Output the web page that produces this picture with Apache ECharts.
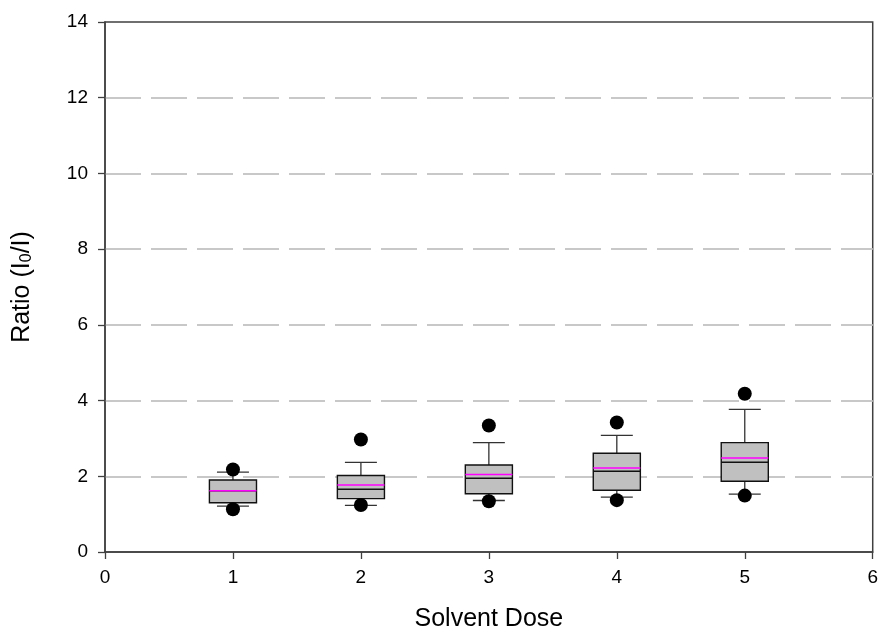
<!DOCTYPE html>
<html>
<head>
<meta charset="utf-8">
<script src="https://cdn.jsdelivr.net/npm/echarts@6/dist/echarts.min.js"></script>
<style>html,body{margin:0;padding:0;background:#fff;}#c{width:881px;height:637px;}</style>
</head>
<body>
<div id="c"></div>
<script>
var doses = [1, 2, 3, 4, 5];
var whiskerLow = [1.21, 1.23, 1.36, 1.45, 1.53];
var q1 = [1.30, 1.41, 1.54, 1.63, 1.87];
var medians = [1.62, 1.66, 1.95, 2.13, 2.37];
var q3 = [1.90, 2.02, 2.30, 2.61, 2.89];
var whiskerHigh = [2.11, 2.37, 2.89, 3.08, 3.77];
var means = [1.62, 1.77, 2.05, 2.22, 2.48];
var outliersHigh = [2.18, 2.97, 3.34, 3.42, 4.18];
var outliersLow = [1.13, 1.24, 1.34, 1.37, 1.49];
var xTicks = [0, 1, 2, 3, 4, 5, 6];
var yTicks = [0, 2, 4, 6, 8, 10, 12, 14];

var boxData = doses.map(function (d, i) {
  return [d, whiskerLow[i], q1[i], medians[i], q3[i], whiskerHigh[i], means[i]];
});
var outlierData = [];
doses.forEach(function (d, i) {
  outlierData.push([d, outliersHigh[i]]);
  outlierData.push([d, outliersLow[i]]);
});

var BOX_W = 0.368, CAP_W = 0.25;
var font = 'Liberation Sans, Arial, sans-serif';

function renderBox(params, api) {
  var x = api.value(0);
  var wl = api.value(1), a = api.value(2), m = api.value(3), b = api.value(4), wh = api.value(5), mn = api.value(6);
  var pL = api.coord([x - BOX_W / 2, a]);
  var pR = api.coord([x + BOX_W / 2, b]);
  var cL = api.coord([x - CAP_W / 2, wl]);
  var cR = api.coord([x + CAP_W / 2, wh]);
  var c = api.coord([x, m]);
  var mnP = api.coord([x, mn]);
  var wlP = api.coord([x, wl]);
  var whP = api.coord([x, wh]);
  var lineStyle = { stroke: '#333', lineWidth: 1.3 };
  return {
    type: 'group',
    children: [
      { type: 'line', shape: { x1: c[0], y1: pR[1], x2: c[0], y2: whP[1] }, style: lineStyle },
      { type: 'line', shape: { x1: c[0], y1: pL[1], x2: c[0], y2: wlP[1] }, style: lineStyle },
      { type: 'line', shape: { x1: cL[0], y1: whP[1], x2: cR[0], y2: whP[1] }, style: lineStyle },
      { type: 'line', shape: { x1: cL[0], y1: wlP[1], x2: cR[0], y2: wlP[1] }, style: lineStyle },
      { type: 'rect', shape: { x: pL[0], y: pR[1], width: pR[0] - pL[0], height: pL[1] - pR[1] },
        style: { fill: '#c0c0c0', stroke: '#111', lineWidth: 1.4 } },
      { type: 'line', shape: { x1: pL[0], y1: c[1], x2: pR[0], y2: c[1] }, style: { stroke: '#111', lineWidth: 1.5 } },
      { type: 'line', shape: { x1: pL[0], y1: mnP[1], x2: pR[0], y2: mnP[1] }, style: { stroke: '#ff00ff', lineWidth: 1.5 } }
    ]
  };
}

var chart = echarts.init(document.getElementById('c'), null, { renderer: 'canvas' });
chart.setOption({
  backgroundColor: '#fff',
  animation: false,
  grid: { left: 105, right: 8, top: 22, bottom: 83, show: true, borderColor: '#404040', borderWidth: 1.5, backgroundColor: 'transparent' },
  xAxis: {
    type: 'value', min: xTicks[0], max: xTicks[xTicks.length - 1], interval: 1,
    name: 'Solvent Dose', nameLocation: 'middle', nameGap: 55,
    nameTextStyle: { fontFamily: font, fontSize: 25, color: '#000' },
    axisLine: { show: true, lineStyle: { color: '#404040', width: 1.5 } },
    axisTick: { show: true, inside: false, length: 7, lineStyle: { color: '#404040', width: 1.3 } },
    axisLabel: { fontFamily: font, fontSize: 19, color: '#000', margin: 16 },
    splitLine: { show: false }
  },
  yAxis: {
    type: 'value', min: yTicks[0], max: yTicks[yTicks.length - 1], interval: 2,
    name: 'Ratio (I{sub|0}/I)', nameLocation: 'middle', nameGap: 70, nameRotate: 90,
    nameTextStyle: { fontFamily: font, fontSize: 25, color: '#000',
      rich: { sub: { fontFamily: font, fontSize: 16, color: '#000', verticalAlign: 'bottom', padding: [10, 0, 0, 0] } } },
    axisLine: { show: true, lineStyle: { color: '#404040', width: 1.5 } },
    axisTick: { show: true, inside: false, length: 7, lineStyle: { color: '#404040', width: 1.3 } },
    axisLabel: { fontFamily: font, fontSize: 19, color: '#000', margin: 17 },
    splitLine: { show: true, showMinLine: false, showMaxLine: false, lineStyle: { color: '#c8c8c8', width: 1.8, type: [36, 10] } }
  },
  series: [
    { type: 'custom', data: boxData, renderItem: renderBox, encode: { x: 0, y: [1, 2, 3, 4, 5] }, z: 3 },
    { type: 'scatter', data: outlierData, symbol: 'circle', symbolSize: 14, itemStyle: { color: '#000', opacity: 1 }, z: 4 }
  ]
});
</script>
</body>
</html>
